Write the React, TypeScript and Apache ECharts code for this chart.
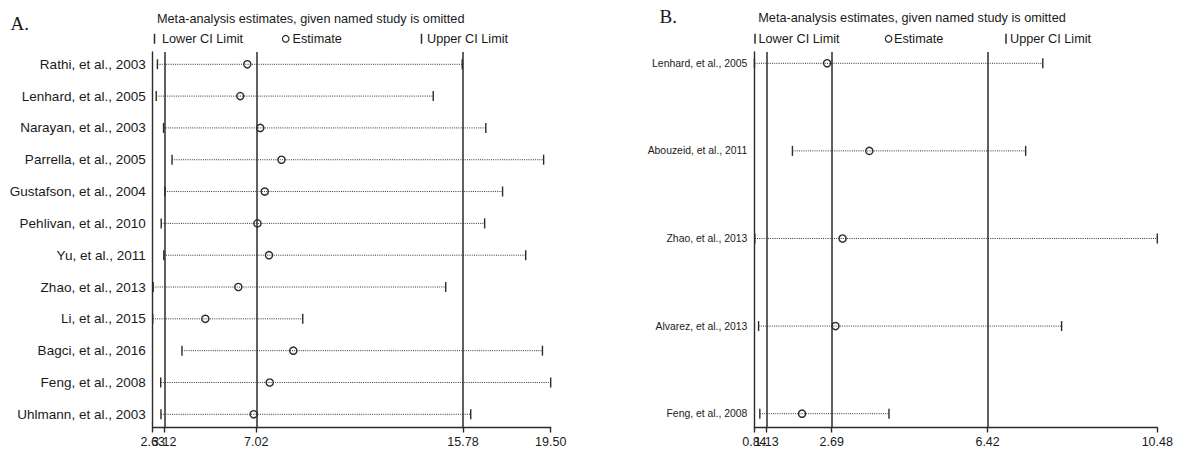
import React, { useEffect, useRef } from "react";
import * as echarts from "echarts";

// ---------- Panel A data ----------
const studiesA = [
  "Rathi, et al., 2003",
  "Lenhard, et al., 2005",
  "Narayan, et al., 2003",
  "Parrella, et al., 2005",
  "Gustafson, et al., 2004",
  "Pehlivan, et al., 2010",
  "Yu, et al., 2011",
  "Zhao, et al., 2013",
  "Li, et al., 2015",
  "Bagci, et al., 2016",
  "Feng, et al., 2008",
  "Uhlmann, et al., 2003",
];
const lowerA = [2.83, 2.78, 3.09, 3.45, 3.15, 2.99, 3.1, 2.65, 2.63, 3.87, 2.97, 2.98];
const estA = [6.64, 6.34, 7.19, 8.09, 7.38, 7.07, 7.56, 6.26, 4.86, 8.59, 7.59, 6.91];
const upperA = [15.75, 14.52, 16.75, 19.2, 17.46, 16.7, 18.44, 15.05, 8.99, 19.15, 19.5, 16.11];
const overallA = [3.12, 7.02, 15.78]; // overall lower CI, estimate, upper CI
const ticksA = [2.63, 3.12, 7.02, 15.78, 19.5];

// ---------- Panel B data ----------
const studiesB = [
  "Lenhard, et al., 2005",
  "Abouzeid, et al., 2011",
  "Zhao, et al., 2013",
  "Alvarez, et al., 2013",
  "Feng, et al., 2008",
];
const lowerB = [0.84, 1.75, 0.85, 0.94, 0.97];
const estB = [2.58, 3.59, 2.95, 2.78, 1.98];
const upperB = [7.74, 7.33, 10.48, 8.19, 4.06];
const overallB = [1.13, 2.69, 6.42];
const ticksB = [0.84, 1.13, 2.69, 6.42, 10.48];

const TITLE = "Meta-analysis estimates, given named study is omitted";
const LEG_LOWER = "Lower CI Limit";
const LEG_EST = "Estimate";
const LEG_UPPER = "Upper CI Limit";

const SANS = "'Liberation Sans', Arial, Helvetica, sans-serif";
const SERIF = "'Liberation Serif', 'Times New Roman', serif";
const TXT = "#1a1a1a";
const LINE = "#2b2b2b";

function renderItem(params: any, api: any) {
  const y = api.value(0);
  const lo = api.coord([api.value(1), y]);
  const es = api.coord([api.value(2), y]);
  const up = api.coord([api.value(3), y]);
  const h = 5;
  return {
    type: "group",
    children: [
      {
        type: "line",
        shape: { x1: lo[0], y1: lo[1], x2: up[0], y2: up[1] },
        style: { stroke: "#333", lineWidth: 1, lineDash: [1, 1.2] },
      },
      {
        type: "line",
        shape: { x1: lo[0], y1: lo[1] - h, x2: lo[0], y2: lo[1] + h },
        style: { stroke: LINE, lineWidth: 1.4 },
      },
      {
        type: "line",
        shape: { x1: up[0], y1: up[1] - h, x2: up[0], y2: up[1] + h },
        style: { stroke: LINE, lineWidth: 1.4 },
      },
      {
        type: "circle",
        shape: { cx: es[0], cy: es[1], r: 3.6 },
        style: { fill: "none", stroke: LINE, lineWidth: 1.4 },
      },
    ],
  };
}

const tickLabel = (values: number[]) => ({
  customValues: values,
  formatter: (v: number) => v.toFixed(2),
  margin: 8,
  fontSize: 12.5,
  color: TXT,
  fontFamily: SANS,
  showMinLabel: true,
  showMaxLabel: true,
  hideOverlap: false,
});

function makeAxes(
  gi: number,
  ticks: number[],
  overall: number[],
  names: string[],
  yMin: number,
  yMax: number,
  nameSize: number
) {
  const idx = names.map((_, i) => i);
  const min = ticks[0];
  const max = ticks[ticks.length - 1];
  const mainLabels = ticks.filter((v) => v !== overall[0]);
  const xAxis = {
    gridIndex: gi,
    type: "value",
    position: "bottom",
    min,
    max,
    axisLine: { show: true, onZero: false, lineStyle: { color: LINE, width: 1.4 } },
    axisTick: { show: true, length: 5, customValues: ticks, lineStyle: { color: LINE, width: 1.4 } },
    axisLabel: tickLabel(mainLabels),
    splitLine: { show: false },
  };
  // second axis on the same line carries the (overlapping) lower-CI label
  const xAxis2 = {
    gridIndex: gi,
    type: "value",
    position: "bottom",
    offset: 0,
    min,
    max,
    axisLine: { show: false, onZero: false },
    axisTick: { show: false },
    axisLabel: tickLabel([overall[0]]),
    splitLine: { show: false },
  };
  const yAxis = {
    gridIndex: gi,
    type: "value",
    inverse: true,
    min: yMin,
    max: yMax,
    axisLine: { show: true, onZero: false, lineStyle: { color: LINE, width: 1.4 } },
    axisTick: { show: false },
    axisLabel: {
      customValues: idx,
      formatter: (v: number) => names[Math.round(v)] ?? "",
      margin: 7,
      fontSize: nameSize,
      color: TXT,
      fontFamily: SANS,
    },
    splitLine: { show: false },
  };
  return { xAxis, xAxis2, yAxis };
}

function makeSeries(gi: number, names: string[], lo: number[], es: number[], up: number[], overall: number[]) {
  return {
    type: "custom",
    xAxisIndex: gi,
    yAxisIndex: gi,
    renderItem,
    encode: { x: [1, 2, 3], y: 0 },
    data: names.map((_, i) => [i, lo[i], es[i], up[i]]),
    markLine: {
      silent: true,
      symbol: ["none", "none"],
      label: { show: false },
      lineStyle: { color: LINE, width: 1.5, type: "solid" },
      data: overall.map((v) => ({ xAxis: v })),
    },
  };
}

function text(x: number, y: number, t: string, size: number, family: string) {
  return {
    type: "text",
    x,
    y,
    style: {
      text: t,
      fontSize: size,
      fontFamily: family,
      fill: TXT,
      verticalAlign: "middle",
      align: "left",
    },
  };
}

function bar(x: number, y: number) {
  return {
    type: "line",
    shape: { x1: x, y1: y - 5, x2: x, y2: y + 5 },
    style: { stroke: LINE, lineWidth: 1.5 },
  };
}

function circle(cx: number, cy: number) {
  return {
    type: "circle",
    shape: { cx, cy, r: 3.3 },
    style: { fill: "none", stroke: LINE, lineWidth: 1.2 },
  };
}

export default function App() {
  const ref = useRef<HTMLDivElement>(null);
  useEffect(() => {
    document.body.style.margin = "0";
    if (!ref.current) return;
    const chart = echarts.init(ref.current, undefined, { renderer: "svg" });
    const a = makeAxes(0, ticksA, overallA, studiesA, -0.386, 11.415, 13.5);
    const b = makeAxes(1, ticksB, overallB, studiesB, -0.129, 4.158, 10.4);
    const LY = 38.8;
    chart.setOption({
      animation: false,
      backgroundColor: "#fff",
      grid: [
        { left: 152.7, top: 52, width: 398, height: 375.5 },
        { left: 754.4, top: 52, width: 402.9, height: 375.5 },
      ],
      xAxis: [a.xAxis, b.xAxis, a.xAxis2, b.xAxis2],
      yAxis: [a.yAxis, b.yAxis],
      series: [
        makeSeries(0, studiesA, lowerA, estA, upperA, overallA),
        makeSeries(1, studiesB, lowerB, estB, upperB, overallB),
      ],
      graphic: [
        text(10.5, 23.5, "A.", 19, SERIF),
        text(659.5, 16.5, "B.", 19, SERIF),
        text(157, 18.6, TITLE, 12.7, SANS),
        text(758.3, 17.9, TITLE, 12.7, SANS),
        bar(154.5, LY),
        text(162, LY, LEG_LOWER, 12.7, SANS),
        circle(285.7, LY),
        text(292.5, LY, LEG_EST, 12.7, SANS),
        bar(421.5, LY),
        text(427, LY, LEG_UPPER, 12.7, SANS),
        bar(755, LY),
        text(758.5, LY, LEG_LOWER, 12.7, SANS),
        circle(888.6, LY),
        text(894, LY, LEG_EST, 12.7, SANS),
        bar(1006, LY),
        text(1010, LY, LEG_UPPER, 12.7, SANS),
      ],
    });
    return () => chart.dispose();
  }, []);
  return <div ref={ref} style={{ width: 1183, height: 453 }} />;
}
